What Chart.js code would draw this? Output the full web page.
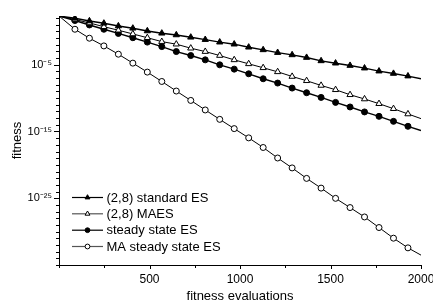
<!DOCTYPE html>
<html>
<head>
<meta charset="utf-8">
<script src="https://cdn.jsdelivr.net/npm/chart.js@4/dist/chart.umd.min.js"></script>
<style>
  html, body { margin: 0; padding: 0; background: #fff; }
  #c { display: block; }
</style>
</head>
<body>
<canvas id="c" width="433" height="306"></canvas>
<script>
// ---- data ----
const evals = [0, 88, 168, 248, 328, 408, 488, 568, 648, 728, 808, 888, 968, 1048, 1128, 1208, 1288, 1368, 1448, 1528, 1608, 1688, 1768, 1848, 1928, 2000];
const standardES = [200, 91, 36, 16.2, 6.4, 2.9, 1.15, 0.52, 0.29, 0.13, 0.058, 0.024, 0.012, 4.2e-3, 1.7e-3, 6.6e-4, 3.0e-4, 1.2e-4, 3.8e-5, 1.7e-5, 7.6e-6, 3.1e-6, 1.1e-6, 4.9e-7, 2.0e-7, 7.9e-8];
const maes = [200, 60, 18, 5.0, 1.47, 0.41, 0.111, 0.029, 0.012, 3.0e-3, 9.4e-4, 2.4e-4, 5.4e-5, 1.37e-5, 3.5e-6, 8.7e-7, 1.74e-7, 4.0e-8, 7.9e-9, 1.8e-9, 3.2e-10, 7.4e-11, 1.47e-11, 2.6e-12, 4.2e-13, 8.5e-14];
const steadyES = [200, 42, 9.1, 2.07, 0.49, 0.111, 0.0245, 5.2e-3, 9.4e-4, 2.4e-4, 5.4e-5, 9.7e-6, 2.2e-6, 4.4e-7, 7.9e-8, 1.8e-8, 3.2e-9, 6.4e-10, 1.28e-10, 2.3e-11, 4.7e-12, 8.5e-13, 1.86e-13, 3.3e-14, 6.0e-15, 1.37e-15];
const maSteadyES = [200, 2.07, 0.094, 6.6e-3, 3.8e-4, 1.74e-5, 7.9e-7, 3.1e-8, 1.15e-9, 4.5e-11, 1.68e-12, 6.6e-14, 2.7e-15, 1.11e-16, 4.0e-18, 1.07e-19, 3.5e-21, 9.4e-23, 3.3e-24, 9.7e-26, 4.0e-27, 1.57e-28, 4.1e-30, 1.04e-31, 3.7e-33, 3.0e-34];
const seriesNames = ['(2,8) standard ES', '(2,8) MAES', 'steady state ES', 'MA steady state ES'];
const xTicks = [0, 250, 500, 750, 1000, 1250, 1500, 1750, 2000];
const xLabelled = [500, 1000, 1500, 2000];
const yExponents = [-35,-34,-33,-32,-31,-30,-29,-28,-27,-26,-25,-24,-23,-22,-21,-20,-19,-18,-17,-16,-15,-14,-13,-12,-11,-10,-9,-8,-7,-6,-5,-4,-3,-2,-1,0,1,2];
const yLabelled = [-5, -15, -25];
const xTitle = 'fitness evaluations';
const yTitle = 'fitness';

const FONT = "'Liberation Sans', Arial, Helvetica, sans-serif";
const SUP = {'-':'\u207B','0':'\u2070','1':'\u00B9','2':'\u00B2','3':'\u00B3','4':'\u2074','5':'\u2075','6':'\u2076','7':'\u2077','8':'\u2078','9':'\u2079'};
function supStr(n){ return String(n).split('').map(c => SUP[c]).join(''); }

function pts(arr){ return arr.map((v,i)=>({x: evals[i], y: v})); }
const lastIdx = evals.length - 1;
function radiusFn(r){ return ctx => (ctx.dataIndex === 0 || ctx.dataIndex === lastIdx) ? 0 : r; }

const styles = [
  {style:'triangle', fill:'#000', r:3.6, lw:1.4},
  {style:'triangle', fill:'#fff', r:3.6, lw:1.0},
  {style:'circle',   fill:'#000', r:3.0, lw:1.4},
  {style:'circle',   fill:'#fff', r:3.0, lw:1.0}
];
const allSeries = [standardES, maes, steadyES, maSteadyES];

const datasets = allSeries.map((s, i) => ({
  label: seriesNames[i],
  data: pts(s),
  borderColor: '#000',
  borderWidth: styles[i].lw,
  pointStyle: styles[i].style,
  pointRadius: radiusFn(styles[i].r),
  pointBackgroundColor: styles[i].fill,
  pointBorderColor: '#000',
  pointBorderWidth: 1,
  tension: 0,
  fill: false
}));

function drawMarker(ctx, style, x, y, r, fill){
  ctx.beginPath();
  if (style === 'triangle') {
    let a = 0;
    ctx.moveTo(x + Math.sin(a)*r, y - Math.cos(a)*r);
    a += 2*Math.PI/3; ctx.lineTo(x + Math.sin(a)*r, y - Math.cos(a)*r);
    a += 2*Math.PI/3; ctx.lineTo(x + Math.sin(a)*r, y - Math.cos(a)*r);
    ctx.closePath();
  } else {
    ctx.arc(x, y, r, 0, Math.PI*2);
  }
  ctx.fillStyle = fill; ctx.fill();
  ctx.lineWidth = 1; ctx.strokeStyle = '#000'; ctx.stroke();
}

const tickAndLegend = {
  id: 'tickAndLegend',
  afterDraw(chart){
    const ctx = chart.ctx;
    const xs = chart.scales.x, ys = chart.scales.y;
    ctx.save();
    ctx.strokeStyle = '#000';
    ctx.lineWidth = 1;
    ys.ticks.forEach(t => {
      const e = Math.round(Math.log10(t.value));
      const p = Math.round(ys.getPixelForValue(t.value)) + 0.5;
      const len = yLabelled.includes(e) ? 5 : 3;
      ctx.beginPath(); ctx.moveTo(ys.right - len, p); ctx.lineTo(ys.right, p); ctx.stroke();
    });
    xs.ticks.forEach(t => {
      const p = Math.round(xs.getPixelForValue(t.value)) + 0.5;
      const len = xLabelled.includes(t.value) ? 4 : 3;
      ctx.beginPath(); ctx.moveTo(p, xs.top); ctx.lineTo(p, xs.top + len); ctx.stroke();
    });
    const area = chart.chartArea;
    const x0 = area.left + 13, x1 = area.left + 44, xm = (x0 + x1)/2;
    const rowY = [197.5, 213.8, 230.2, 246.5];
    ctx.font = '13px ' + FONT;
    ctx.textBaseline = 'middle';
    ctx.textAlign = 'left';
    chart.data.datasets.forEach((ds, i) => {
      const y = rowY[i];
      ctx.beginPath(); ctx.lineWidth = 1.2; ctx.strokeStyle = i % 2 ? '#555' : '#000';
      ctx.moveTo(x0, y); ctx.lineTo(x1, y); ctx.stroke();
      drawMarker(ctx, styles[i].style, xm, y, styles[i].style === 'triangle' ? 2.8 : 2.4, styles[i].fill);
      ctx.fillStyle = '#000';
      ctx.fillText(ds.label, x1 + 3.5, y + 0.5);
    });
    ctx.restore();
  }
};

new Chart(document.getElementById('c'), {
  type: 'line',
  data: { datasets },
  options: {
    responsive: false,
    animation: false,
    devicePixelRatio: 1,
    layout: { padding: { left: 0, top: 16, right: 12, bottom: 0 } },
    plugins: { legend: { display: false }, tooltip: { enabled: false } },
    scales: {
      x: {
        type: 'linear',
        min: 0, max: 2000,
        afterBuildTicks: s => { s.ticks = xTicks.map(v => ({value: v})); },
        afterFit: s => { s.height = 41; s.paddingLeft = 0; s.paddingRight = 0; },
        grid: { display: false, drawTicks: false },
        border: { display: true, color: '#000', width: 1 },
        ticks: {
          autoSkip: false, maxRotation: 0, padding: 7,
          color: '#000', font: { family: FONT, size: 12 },
          callback: v => xLabelled.includes(v) ? String(v) : ''
        },
        title: { display: true, text: xTitle, color: '#000', font: { family: FONT, size: 13 }, padding: { top: 0, bottom: 2 } }
      },
      y: {
        type: 'logarithmic',
        min: 1e-35, max: 200,
        afterBuildTicks: s => { s.ticks = yExponents.map(e => ({value: Math.pow(10, e)})); },
        afterFit: s => { s.width = 59; s.paddingTop = 0; s.paddingBottom = 0; },
        grid: { display: false, drawTicks: false },
        border: { display: true, color: '#000', width: 1 },
        ticks: {
          autoSkip: false, padding: 7,
          color: '#000', font: { family: FONT, size: 11 },
          callback: v => { const e = Math.round(Math.log10(v)); return yLabelled.includes(e) ? '10' + supStr(e) : ''; }
        },
        title: { display: true, text: yTitle, color: '#000', font: { family: FONT, size: 13 }, padding: { top: 10, bottom: 0 } }
      }
    }
  },
  plugins: [tickAndLegend]
});
</script>
</body>
</html>
